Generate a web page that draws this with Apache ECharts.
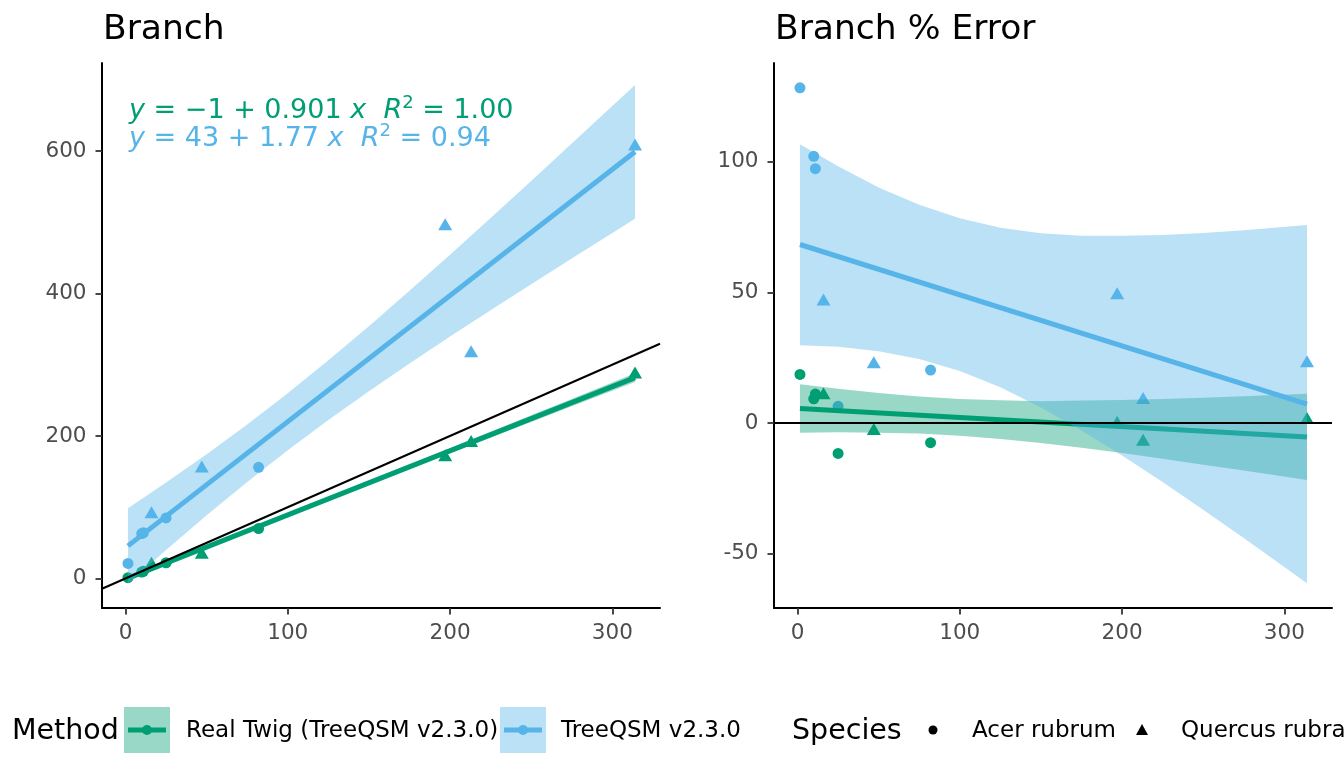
<!DOCTYPE html>
<html>
<head>
<meta charset="utf-8">
<script src="https://cdn.jsdelivr.net/npm/echarts@6/dist/echarts.min.js"></script>
<style>
  html, body { margin: 0; padding: 0; background: #fff; }
  #chart { width: 1344px; height: 768px; }
</style>
</head>
<body>
<div id="chart"></div>
<script>
var xTicks = [0, 100, 200, 300];
var branchTicks = [0, 200, 400, 600];
var errorTicks = [-50, 0, 50, 100];

var acerX = [1.5, 10, 11, 25, 82];
var quercusX = [16, 47, 197, 213, 314];

// Branch panel points
var branchTwigAcer = [1, 9, 10, 22, 70];
var branchTwigQuercus = [22, 36, 173, 193, 289];
var branchQsmAcer = [21, 63, 64, 85, 156];
var branchQsmQuercus = [93, 157, 497, 319, 609];

// Branch % Error panel points
var errorTwigAcer = [18.6, 9.3, 11.1, -11.6, -7.5];
var errorTwigQuercus = [11.4, -2.3, 0.4, -6.4, 2.0];
var errorQsmAcer = [128.2, 102.0, 97.3, 6.4, 20.3];
var errorQsmQuercus = [47.3, 23.3, 49.7, 9.6, 23.7];

// fitted lines (ends)
var fitX = [1.5, 314];
var branchTwigFit = [0.4, 281.9];
var branchQsmFit = [45.7, 598.8];
var errorTwigFit = [5.6, -5.3];
var errorQsmFit = [68.3, 7.3];

// confidence bands
var bandX = [1.5, 25, 50, 75, 100, 125, 150, 175, 200, 225, 250, 275, 314];
var branchTwigHi = [3.7, 24.5, 46.8, 69.2, 91.6, 114.3, 137.1, 159.9, 182.8, 205.8, 228.9, 251.9, 287.9];
var branchTwigLo = [-2.9, 18.5, 41.4, 64.0, 86.6, 108.9, 131.3, 153.5, 175.6, 197.6, 219.7, 241.7, 275.9];
var branchQsmHi = [98.6, 134.6, 174.4, 216.2, 260.0, 306.1, 354.1, 403.8, 454.5, 506.0, 557.9, 610.4, 692.6];
var branchQsmLo = [-7.0, 40.0, 88.6, 135.4, 180.0, 222.5, 262.9, 301.8, 339.5, 376.6, 413.1, 449.2, 505.0];
var errorTwigHi = [14.9, 13.1, 11.5, 10.2, 9.2, 8.7, 8.4, 8.6, 8.8, 9.2, 9.7, 10.3, 11.2];
var errorTwigLo = [-3.7, -3.5, -3.7, -4.0, -4.8, -6.1, -7.6, -9.4, -11.4, -13.6, -15.9, -18.1, -21.8];
var errorQsmHi = [106.6, 98.2, 90.1, 83.5, 78.3, 74.7, 72.6, 71.6, 71.6, 71.9, 72.7, 73.7, 75.8];
var errorQsmLo = [29.8, 29.2, 27.5, 24.5, 19.9, 13.7, 6.0, -2.8, -12.4, -22.5, -33.1, -43.9, -61.2];

// reference lines
var refX = [-14.5, 329.4];
var branchRefY = [-14.5, 329.4];
var errorRefY = [0, 0];

var GREEN = '#009E73';
var BLUE = '#56B4E9';
var FONT = 'DejaVu Sans';

function pairs(xs, ys) {
    return xs.map(function (x, i) { return [x, ys[i]]; });
}

function pointSeries(idx, xs, ys, color, symbol) {
    return {
        type: 'scatter', xAxisIndex: idx, yAxisIndex: idx, z: 2, silent: true,
        symbol: symbol, symbolSize: symbol == 'triangle' ? [14, 12] : 11,
        itemStyle: { color: color, opacity: 1 },
        data: pairs(xs, ys)
    };
}

function bandSeries(idx, lo, hi, color, z) {
    return {
        type: 'custom', xAxisIndex: idx, yAxisIndex: idx, z: z, silent: true,
        data: [[bandX[0], lo[0]]],
        renderItem: function (params, api) {
            var pts = [];
            for (var i = 0; i < bandX.length; i++) pts.push(api.coord([bandX[i], hi[i]]));
            for (var j = bandX.length - 1; j >= 0; j--) pts.push(api.coord([bandX[j], lo[j]]));
            return { type: 'polygon', shape: { points: pts }, style: { fill: color, opacity: 0.4 } };
        }
    };
}

function lineSeries(idx, xs, ys, color, width, z) {
    return {
        type: 'line', xAxisIndex: idx, yAxisIndex: idx, z: z, silent: true,
        symbol: 'none', lineStyle: { color: color, width: width },
        data: pairs(xs, ys)
    };
}

function xAxisOf(idx) {
    return {
        type: 'value', gridIndex: idx, min: -14.5, max: 329.4,
        splitLine: { show: false },
        axisLine: { show: true, onZero: false, lineStyle: { color: '#000', width: 2 } },
        axisTick: { show: true, customValues: xTicks, length: 6.5, lineStyle: { color: '#333', width: 1.8 } },
        axisLabel: { customValues: xTicks, color: '#4d4d4d', fontSize: 21.5, fontFamily: FONT, margin: 14 }
    };
}

function yAxisOf(idx, min, max, ticks) {
    return {
        type: 'value', gridIndex: idx, min: min, max: max,
        splitLine: { show: false },
        axisLine: { show: true, onZero: false, lineStyle: { color: '#000', width: 2 } },
        axisTick: { show: true, customValues: ticks, length: 6.5, lineStyle: { color: '#333', width: 1.8 } },
        axisLabel: { customValues: ticks, color: '#4d4d4d', fontSize: 21.5, fontFamily: FONT, margin: 15.5 }
    };
}

var eqRich = {
    i: { fontStyle: 'italic', fontSize: 27, fontFamily: FONT, lineHeight: 34 },
    n: { fontSize: 27, fontFamily: FONT, lineHeight: 34 },
    s: { fontSize: 18, fontFamily: FONT, lineHeight: 18, verticalAlign: 'top' }
};

function txt(x, y, text, size, color) {
    return { type: 'text', x: x, y: y, silent: true,
        style: { text: text, fill: color || '#000', font: size + 'px "' + FONT + '"', verticalAlign: 'middle', align: 'left' } };
}

var chart = echarts.init(document.getElementById('chart'), null, { renderer: 'canvas' });

var option = {
    backgroundColor: '#fff',
    animation: false,
    grid: [
        { left: 102, top: 63, width: 558, height: 545, containLabel: false, outerBoundsMode: 'none' },
        { left: 774, top: 63, width: 558, height: 545, containLabel: false, outerBoundsMode: 'none' }
    ],
    xAxis: [xAxisOf(0), xAxisOf(1)],
    yAxis: [yAxisOf(0, -41.5, 723.5, branchTicks), yAxisOf(1, -70.7, 137.7, errorTicks)],
    series: [
        // Branch
        pointSeries(0, acerX, branchTwigAcer, GREEN, 'circle'),
        pointSeries(0, quercusX, branchTwigQuercus, GREEN, 'triangle'),
        pointSeries(0, acerX, branchQsmAcer, BLUE, 'circle'),
        pointSeries(0, quercusX, branchQsmQuercus, BLUE, 'triangle'),
        bandSeries(0, branchTwigLo, branchTwigHi, GREEN, 3),
        lineSeries(0, fitX, branchTwigFit, GREEN, 5, 4),
        bandSeries(0, branchQsmLo, branchQsmHi, BLUE, 5),
        lineSeries(0, fitX, branchQsmFit, BLUE, 5, 6),
        lineSeries(0, refX, branchRefY, '#000', 2, 7),
        // Branch % Error
        pointSeries(1, acerX, errorTwigAcer, GREEN, 'circle'),
        pointSeries(1, quercusX, errorTwigQuercus, GREEN, 'triangle'),
        pointSeries(1, acerX, errorQsmAcer, BLUE, 'circle'),
        pointSeries(1, quercusX, errorQsmQuercus, BLUE, 'triangle'),
        bandSeries(1, errorTwigLo, errorTwigHi, GREEN, 3),
        lineSeries(1, fitX, errorTwigFit, GREEN, 5, 4),
        bandSeries(1, errorQsmLo, errorQsmHi, BLUE, 5),
        lineSeries(1, fitX, errorQsmFit, BLUE, 5, 6),
        lineSeries(1, refX, errorRefY, '#000', 2, 7)
    ],
    graphic: [
        txt(103, 30, 'Branch', 34.5),
        txt(775, 30, 'Branch % Error', 34.5),
        { type: 'text', x: 129, y: 111, z: 10, silent: true,
          style: { text: '{i|y}{n| = \u22121 + 0.901 }{i|x}{n|  }{i|R}{s|2}{n| = 1.00}', rich: eqRich, fill: GREEN, verticalAlign: 'middle' } },
        { type: 'text', x: 129, y: 139, z: 10, silent: true,
          style: { text: '{i|y}{n| = 43 + 1.77 }{i|x}{n|  }{i|R}{s|2}{n| = 0.94}', rich: eqRich, fill: BLUE, verticalAlign: 'middle' } },
        // legend: Method
        txt(12, 732, 'Method', 28.5),
        { type: 'rect', shape: { x: 124, y: 707, width: 46, height: 46 }, style: { fill: GREEN, opacity: 0.4 }, silent: true },
        { type: 'line', shape: { x1: 128, y1: 730, x2: 166, y2: 730 }, style: { stroke: GREEN, lineWidth: 5 }, silent: true },
        { type: 'circle', shape: { cx: 147, cy: 730, r: 5 }, style: { fill: GREEN }, silent: true },
        txt(186, 731, 'Real Twig (TreeQSM v2.3.0)', 23),
        { type: 'rect', shape: { x: 500, y: 707, width: 46, height: 46 }, style: { fill: BLUE, opacity: 0.4 }, silent: true },
        { type: 'line', shape: { x1: 504, y1: 730, x2: 542, y2: 730 }, style: { stroke: BLUE, lineWidth: 5 }, silent: true },
        { type: 'circle', shape: { cx: 523, cy: 730, r: 5 }, style: { fill: BLUE }, silent: true },
        txt(561, 731, 'TreeQSM v2.3.0', 23),
        // legend: Species
        txt(792, 732, 'Species', 28.5),
        { type: 'circle', shape: { cx: 933, cy: 730, r: 4.5 }, style: { fill: '#000' }, silent: true },
        txt(972, 731, 'Acer rubrum', 23),
        { type: 'polygon', shape: { points: [[1136, 735], [1148, 735], [1142, 724]] }, style: { fill: '#000' }, silent: true },
        txt(1181, 731, 'Quercus rubra', 23)
    ]
};
chart.setOption(option);
</script>
</body>
</html>
